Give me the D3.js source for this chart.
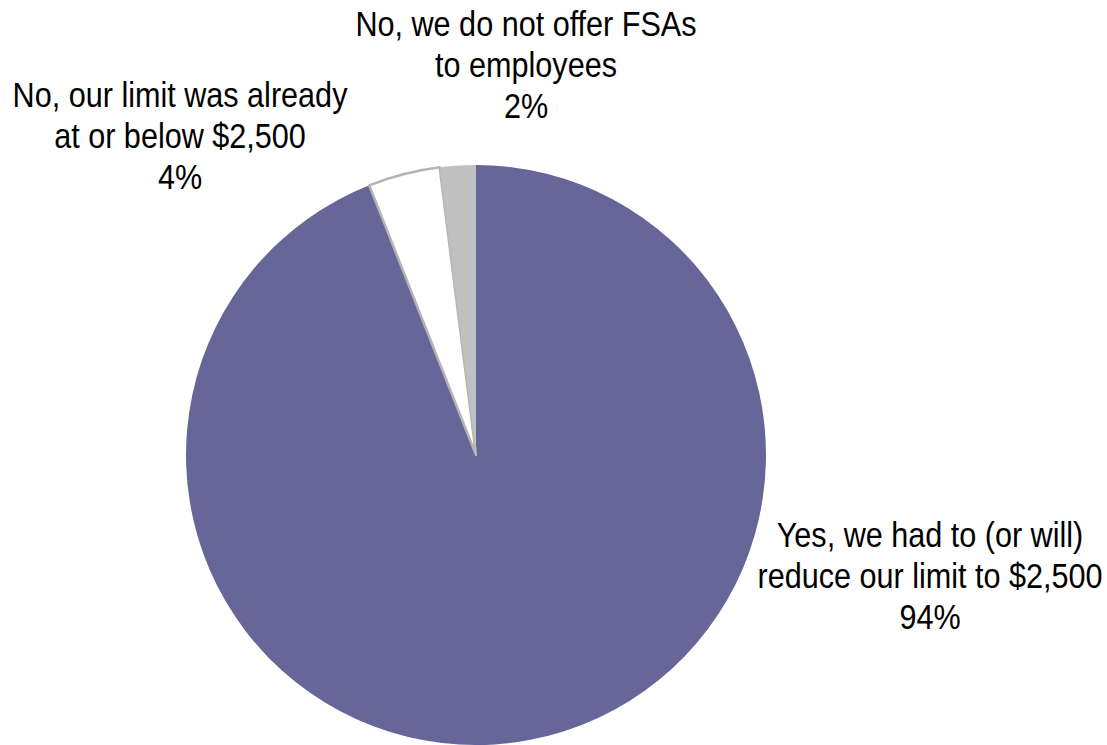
<!DOCTYPE html>
<html>
<head>
<meta charset="utf-8">
<script src="https://cdn.jsdelivr.net/npm/d3@7/dist/d3.min.js"></script>
<style>
  html, body { margin: 0; padding: 0; background: #fff; }
  svg text { font-family: "Liberation Sans", Arial, sans-serif; font-size: 36px; fill: #000; }
</style>
</head>
<body>
<svg id="chart" width="1107" height="745"></svg>
<script>
// Survey responses: did the FSA contribution limit change?
const categories = [
  ["Yes, we had to (or will)", "reduce our limit to $2,500"],
  ["No, our limit was already", "at or below $2,500"],
  ["No, we do not offer FSAs", "to employees"]
];
const values = [94, 4, 2];
const valueLabels = ["94%", "4%", "2%"];
const colors = ["#666699", "#ffffff", "#c0c0c0"];
const strokes = ["none", "#b4b4b4", "none"];

const width = 1107, height = 745;
const cx = 476, cy = 455, radius = 290;

const svg = d3.select("#chart");
const g = svg.append("g").attr("transform", `translate(${cx},${cy})`);

const pie = d3.pie().sort(null).value(d => d)(values);
const arc = d3.arc().innerRadius(0).outerRadius(radius);

g.selectAll("path.slice")
  .data(pie)
  .join("path")
  .attr("class", "slice")
  .attr("d", arc)
  .attr("fill", (d, i) => colors[i])
  .attr("stroke", (d, i) => strokes[i])
  .attr("stroke-width", 2.5)
  .attr("stroke-linejoin", "round");

// Label block centers (x) and first-line baselines (y), in page coordinates
const labelPos = [
  { x: 930, y: 547 },
  { x: 180, y: 107 },
  { x: 526, y: 36 }
];
const lineHeight = 41;
const condense = 0.85; // narrow typeface look

const labels = svg.selectAll("g.lbl")
  .data(pie)
  .join("g")
  .attr("class", "lbl")
  .attr("transform", (d, i) => `translate(${labelPos[i].x},${labelPos[i].y}) scale(${condense},1)`)
  .append("text")
  .attr("text-anchor", "middle");

labels.each(function(d, i) {
  const lines = categories[i].concat([valueLabels[i]]);
  d3.select(this).selectAll("tspan")
    .data(lines)
    .join("tspan")
    .attr("x", 0)
    .attr("dy", (t, j) => j === 0 ? 0 : lineHeight)
    .text(t => t);
});
</script>
</body>
</html>
